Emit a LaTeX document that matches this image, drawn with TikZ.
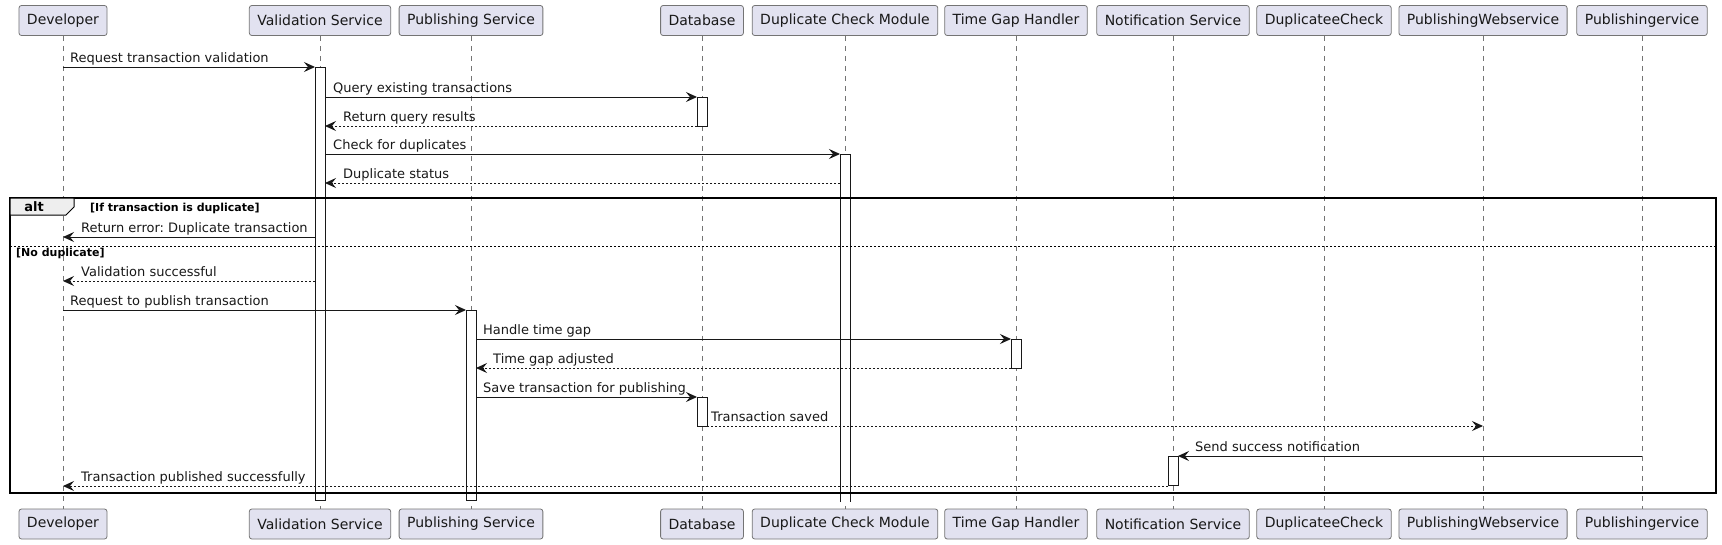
\documentclass[tikz,border=0pt]{standalone}
\usepackage{fontspec}
\setmainfont{DejaVu Sans}
\usetikzlibrary{arrows.meta}
\frenchspacing
\definecolor{pbox}{HTML}{E2E2F0}
\definecolor{pline}{HTML}{181818}
\definecolor{tabfill}{HTML}{EEEEEE}
\tikzset{
  part/.style={draw=pline!60, line width=0.8pt, fill=pbox, rounded corners=2.5pt,
    minimum height=30pt, inner xsep=8pt, inner ysep=0pt,
    font=\fontsize{14}{16}\selectfont, text=pline},
  life/.style={draw=pline!60, line width=0.7pt, dash pattern=on 5pt off 5pt},
  actbar/.style={draw=pline, fill=white, line width=0.8pt},
  msgline/.style={draw=pline, line width=1pt, -{Stealth[length=11pt,width=10pt,inset=4pt]}},
  retline/.style={msgline, dash pattern=on 2pt off 2pt},
  msgtext/.style={anchor=base west, inner sep=0pt, font=\fontsize{13}{15}\selectfont, text=pline},
  guardtext/.style={anchor=base west, inner sep=0pt, font=\fontsize{11}{13}\selectfont\bfseries, text=black},
  framebox/.style={draw=black, line width=1.4pt},
  sepline/.style={draw=black, line width=0.7pt, dash pattern=on 2pt off 2pt},
}
\newcommand\mymsg[7]{%
  \coordinate (#1a) at (#3,#2);
  \coordinate (#1b) at (#4,#2);
  \draw[#6] (#1a) -- (#1b);
  \node[msgtext] (#1t) at (#5,#2-5) {#7};
}
\begin{document}
\begin{tikzpicture}[x=1pt,y=-1pt]
\useasboundingbox (0,0) rectangle (1722,544);
% participants (top and bottom)
\foreach \n/\x/\t in {1/63/Developer, 2/320/Validation Service, 3/471/Publishing Service,
  4/702/Database, 5/845/Duplicate Check Module, 6/1016/Time Gap Handler,
  7/1173/Notification Service, 8/1324/DuplicateeCheck, 9/1483/PublishingWebservice,
  10/1642/Publishingervice}{
  \node[part] (p\n) at (\x,20.5) {\t};
  \node[part] (q\n) at (\x,524) {\t};
  \draw[life] (p\n.south) -- (q\n.north);
}
% activations
\draw[actbar] (315,67) rectangle (325,500);
\draw[actbar] (466,310) rectangle (476,500);
\draw[actbar] (697,97) rectangle (707,126);
\draw[actbar] (697,397) rectangle (707,426);
\fill[white] (840,154) rectangle (850,502);
\draw[pline, line width=0.8pt] (840,502) -- (840,154) -- (850,154) -- (850,502);
\draw[actbar] (1011,339) rectangle (1021,368);
\draw[actbar] (1168,456) rectangle (1178,485);
% alt frame
\draw[framebox] (10,198) rectangle (1716,493);
\draw[fill=tabfill, draw=black, line width=1pt] (10,198) -- (74,198) -- (74,207) -- (66,215) -- (10,215) -- cycle;
\node[inner sep=0pt, anchor=base, font=\fontsize{13}{15}\selectfont\bfseries] (altlbl) at (34,211) {alt};
\node[guardtext] (g1) at (90,211) {[If transaction is duplicate]};
\coordinate (sepL) at (10,246);
\coordinate (sepR) at (1716,246);
\draw[sepline] (sepL) -- (sepR);
\node[guardtext] (g2) at (16,256) {[No duplicate]};
% messages
\mymsg{m1}{67}{63}{315}{70}{msgline}{Request transaction validation}
\mymsg{m2}{97}{325}{697}{333}{msgline}{Query existing transactions}
\mymsg{m3}{126}{697}{325}{343}{retline}{Return query results}
\mymsg{m4}{154}{325}{840}{333}{msgline}{Check for duplicates}
\mymsg{m5}{183}{840}{325}{343}{retline}{Duplicate status}
\mymsg{m6}{237}{315}{63}{81}{msgline}{Return error: Duplicate transaction}
\mymsg{m7}{281}{315}{63}{81}{retline}{Validation successful}
\mymsg{m8}{310}{63}{466}{70}{msgline}{Request to publish transaction}
\mymsg{m9}{339}{476}{1011}{483}{msgline}{Handle time gap}
\mymsg{m10}{368}{1011}{476}{493}{retline}{Time gap adjusted}
\mymsg{m11}{397}{476}{697}{483}{msgline}{Save transaction for publishing}
\mymsg{m12}{426}{707}{1483}{711}{retline}{Transaction saved}
\mymsg{m13}{456}{1642}{1178}{1195}{msgline}{Send success notification}
\mymsg{m14}{486}{1168}{63}{81}{retline}{Transaction published successfully}
\end{tikzpicture}
\end{document}
